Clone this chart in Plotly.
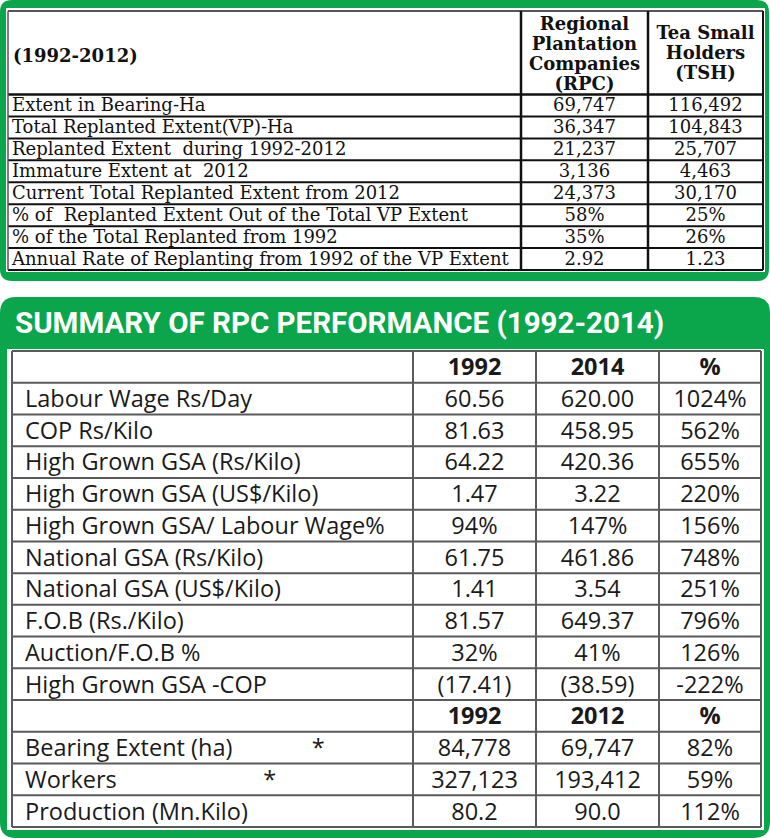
import plotly.graph_objects as go

W, H = 770, 838
GREEN = "#0BA64B"

# ---------------- data ----------------
top_header = ["(1992-2012)",
              "Regional<br>Plantation<br>Companies<br>(RPC)",
              "Tea Small<br>Holders<br>(TSH)"]
top_labels = ["Extent in Bearing-Ha",
              "Total Replanted Extent(VP)-Ha",
              "Replanted Extent  during 1992-2012",
              "Immature Extent at  2012",
              "Current Total Replanted Extent from 2012",
              "% of  Replanted Extent Out of the Total VP Extent",
              "% of the Total Replanted from 1992",
              "Annual Rate of Replanting from 1992 of the VP Extent"]
rpc = ["69,747", "36,347", "21,237", "3,136", "24,373", "58%", "35%", "2.92"]
tsh = ["116,492", "104,843", "25,707", "4,463", "30,170", "25%", "26%", "1.23"]

title = "SUMMARY OF RPC PERFORMANCE (1992-2014)"
head1 = ["", "1992", "2014", "%"]
labels1 = ["Labour Wage Rs/Day", "COP Rs/Kilo", "High Grown GSA (Rs/Kilo)",
           "High Grown GSA (US$/Kilo)", "High Grown GSA/ Labour Wage%",
           "National GSA (Rs/Kilo)", "National GSA (US$/Kilo)",
           "F.O.B (Rs./Kilo)", "Auction/F.O.B %", "High Grown GSA -COP"]
v1992 = ["60.56", "81.63", "64.22", "1.47", "94%", "61.75", "1.41", "81.57", "32%", "(17.41)"]
v2014 = ["620.00", "458.95", "420.36", "3.22", "147%", "461.86", "3.54", "649.37", "41%", "(38.59)"]
pct1 = ["1024%", "562%", "655%", "220%", "156%", "748%", "251%", "796%", "126%", "-222%"]
head2 = ["", "1992", "2012", "%"]
labels2 = ["Bearing Extent (ha)" + "\u00a0" * 13 + "*",
           "Workers" + "\u00a0" * 24 + "*",
           "Production (Mn.Kilo)"]
v1992b = ["84,778", "327,123", "80.2"]
v2012 = ["69,747", "193,412", "90.0"]
pct2 = ["82%", "59%", "112%"]

# ---------------- layout geometry (pixels, y downward) ----------------
T_X = [8, 521, 648, 763]          # top table column edges
T_TOP, T_HEAD, T_BOT = 11, 94.5, 270
B_X = [12, 413, 536, 659, 761]    # bottom table column edges
B_TOP, B_BOT = 351, 827

SERIF = "DejaVu Serif"
SANS = "Open Sans"

fig = go.Figure()


def add_text(xs, ys, texts, pos, size, family, bold=False, color="#111"):
    if bold:
        texts = ["<b>" + t + "</b>" if t else t for t in texts]
    fig.add_trace(go.Scatter(x=xs, y=ys, text=texts, mode="text",
                             textposition=pos, hoverinfo="skip", showlegend=False,
                             textfont=dict(family=family, size=size, color=color)))


shapes = []


def rrect(x0, y0, x1, y1, r):
    return (f"M {x0 + r},{y0} L {x1 - r},{y0} Q {x1},{y0} {x1},{y0 + r} "
            f"L {x1},{y1 - r} Q {x1},{y1} {x1 - r},{y1} L {x0 + r},{y1} "
            f"Q {x0},{y1} {x0},{y1 - r} L {x0},{y0 + r} Q {x0},{y0} {x0 + r},{y0} Z")


def line(x0, y0, x1, y1, color, width):
    shapes.append(dict(type="line", xref="x", yref="y", x0=x0, y0=y0, x1=x1, y1=y1,
                       line=dict(color=color, width=width), layer="above"))


# green panels
shapes.append(dict(type="path", xref="x", yref="y", path=rrect(0, 0, 769, 281, 12),
                   fillcolor=GREEN, line=dict(width=0), layer="below"))
shapes.append(dict(type="rect", xref="x", yref="y", x0=6, x1=765, y0=8, y1=272,
                   fillcolor="white", line=dict(width=0), layer="below"))
shapes.append(dict(type="path", xref="x", yref="y", path=rrect(0, 297, 770, 838, 16),
                   fillcolor=GREEN, line=dict(width=0), layer="below"))
shapes.append(dict(type="rect", xref="x", yref="y", x0=7, x1=764, y0=349, y1=830,
                   fillcolor="white", line=dict(width=0), layer="below"))

# ---------------- top table ----------------
n_top = len(top_labels)
rh_t = (T_BOT - T_HEAD) / n_top
row_y = [T_HEAD + (i + 0.5) * rh_t + 1.5 for i in range(n_top)]
# grid
for i in range(n_top + 1):
    line(T_X[0], T_HEAD + i * rh_t, T_X[-1], T_HEAD + i * rh_t, "#111", 2.5 if i == 0 else 2)
line(T_X[0], T_TOP, T_X[-1], T_TOP, "#555", 2)
line(T_X[0], T_TOP, T_X[0], T_BOT, "#555", 1.5)
line(T_X[-1], T_TOP, T_X[-1], T_BOT, "#111", 2)
for x in T_X[1:-1]:
    line(x, T_TOP, x, T_BOT, "#111", 2.5)

# header texts
add_text([T_X[0] + 5], [(T_TOP + T_HEAD) / 2 + 4.5], [top_header[0]], "middle right", 18, SERIF, True)
for c, hy0 in ((1, 25), (2, 34)):
    parts = top_header[c].split("<br>")
    cx = (T_X[c] + T_X[c + 1]) / 2
    add_text([cx] * len(parts), [hy0 + 20.3 * k for k in range(len(parts))], parts,
             "middle center", 18, SERIF, True)

add_text([T_X[0] + 4] * n_top, row_y, top_labels, "middle right", 18, SERIF)
add_text([(T_X[1] + T_X[2]) / 2] * n_top, row_y, rpc, "middle center", 18, SERIF)
add_text([(T_X[2] + T_X[3]) / 2] * n_top, row_y, tsh, "middle center", 18, SERIF)

# ---------------- bottom table ----------------
b_labels = [head1[0]] + labels1 + [head2[0]] + labels2
b_c1 = [head1[1]] + v1992 + [head2[1]] + v1992b
b_c2 = [head1[2]] + v2014 + [head2[2]] + v2012
b_c3 = [head1[3]] + pct1 + [head2[3]] + pct2
n_b = len(b_labels)
rh_b = (B_BOT - B_TOP) / n_b
by = [B_TOP + (i + 0.5) * rh_b + 2.5 for i in range(n_b)]
bold_rows = {0, len(labels1) + 1}

for i in range(n_b + 1):
    line(B_X[0], B_TOP + i * rh_b, B_X[-1], B_TOP + i * rh_b, "#5a5a5a", 2)
for x in B_X:
    line(x, B_TOP, x, B_BOT, "#5a5a5a", 2)

FS = 23.5
norm = [i for i in range(n_b) if i not in bold_rows]
bold = sorted(bold_rows)
add_text([B_X[0] + 13] * len(norm), [by[i] for i in norm], [b_labels[i] for i in norm],
         "middle right", FS, SANS, color="#1a1a1a")
for c, vals in enumerate([b_c1, b_c2, b_c3], start=1):
    cx = (B_X[c] + B_X[c + 1]) / 2
    add_text([cx] * len(norm), [by[i] for i in norm], [vals[i] for i in norm],
             "middle center", FS, SANS, color="#1a1a1a")
    add_text([cx] * len(bold), [by[i] for i in bold], [vals[i] for i in bold],
             "middle center", FS, SANS, True, color="#1a1a1a")

fig.update_layout(
    width=W, height=H,
    margin=dict(l=0, r=0, t=0, b=0),
    paper_bgcolor="white", plot_bgcolor="white",
    xaxis=dict(range=[0, W], visible=False, fixedrange=True),
    yaxis=dict(range=[H, 0], visible=False, fixedrange=True),
    shapes=shapes,
    annotations=[dict(text="<b>" + title + "</b>", xref="x", yref="y",
                      x=13, y=323, xanchor="left", yanchor="middle",
                      showarrow=False,
                      font=dict(family="Roboto", size=29.5, color="white"))],
)

fig.write_html("out.html", config=dict(displayModeBar=False),
               post_script="document.body.style.margin='0';document.body.style.overflow='hidden';")
